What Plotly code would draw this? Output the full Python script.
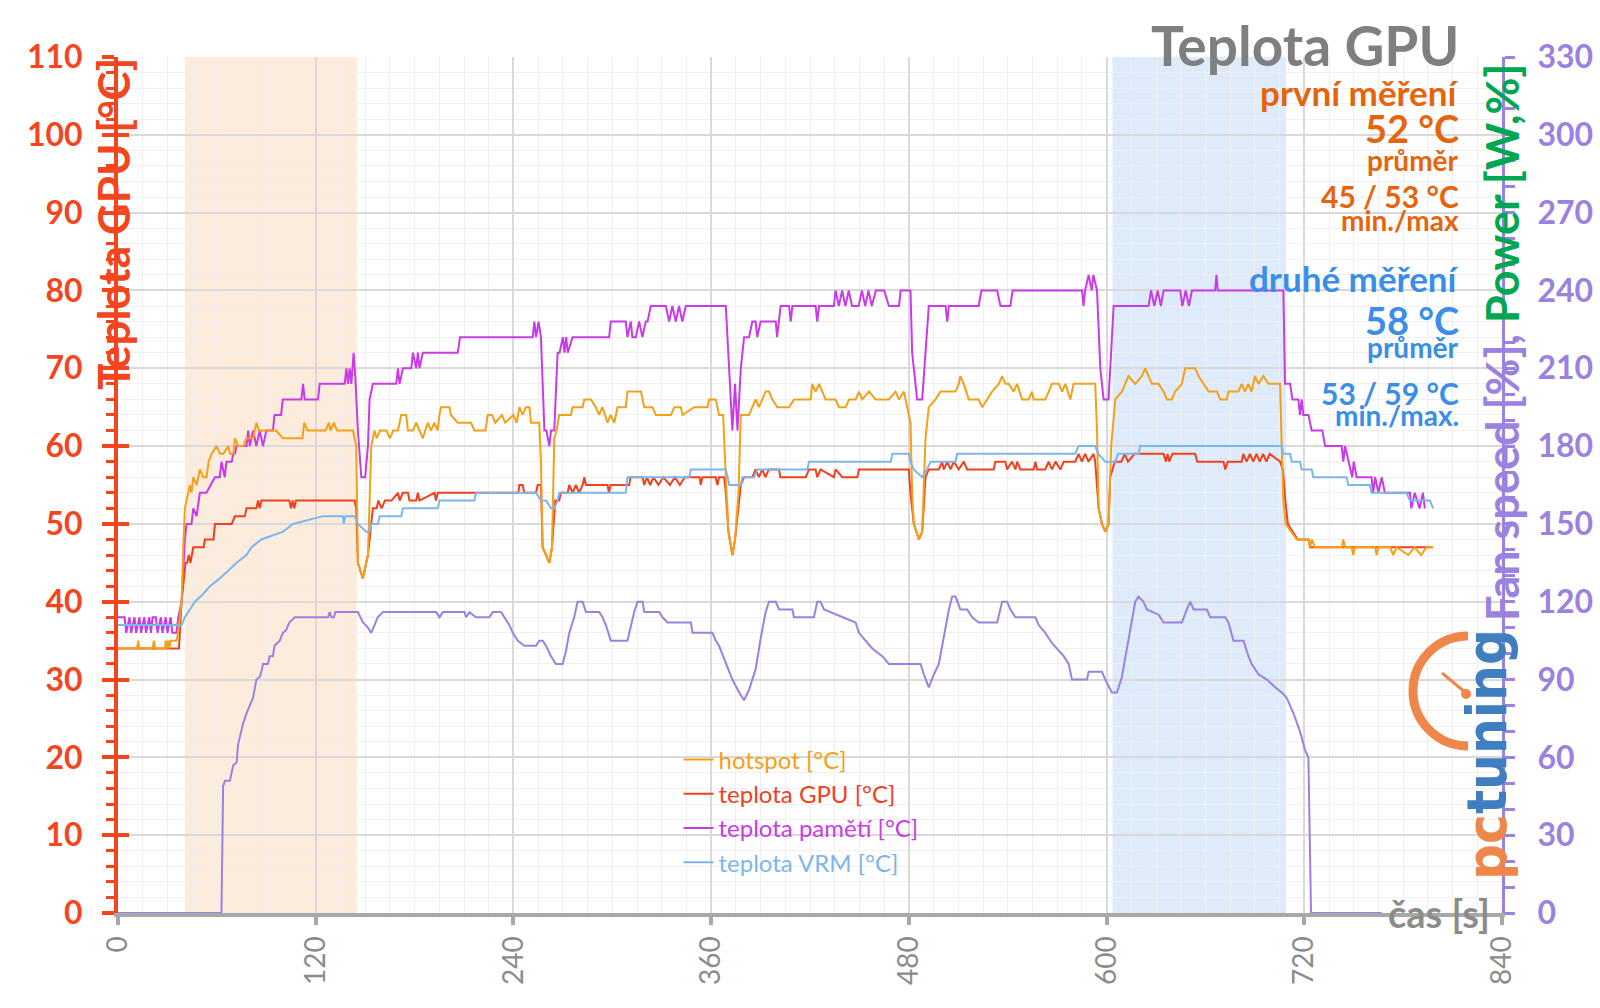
import plotly.graph_objects as go

# ---------------- data ----------------
# shaded measurement windows [s]
zone_first = [40.6, 145.0]
zone_second = [603.6, 709.0]

# fan speed (right axis)
fan_t = [0, 62.8, 63.8, 65, 67.9, 70, 72, 72.9, 74, 75.9, 78, 80, 82, 84, 86, 87, 88, 91, 92, 94, 95, 98.2,
         100, 102, 104, 107.3, 127.5, 128.5, 129.5, 131, 132, 145.6, 148.7, 151.7, 153.7, 155.7, 157.6, 160.8,
         193.1, 195.1, 197.1, 210.3, 211.3, 213.3, 217.3, 225.4, 227.4, 232.5, 235.5, 237.5, 239.6, 242.6,
         246.6, 253.7, 255.7, 257.7, 259.8, 262.8, 265.8, 269.9, 271.9, 273.9, 276.9, 278.9, 282, 284, 292.1,
         294.1, 296.1, 299.1, 309.2, 311.2, 313.3, 315.3, 318.4, 319.4, 328.5, 330.5, 333.5, 347.7, 348.7,
         360.8, 362.8, 364.8, 368.9, 372.9, 377, 380, 383, 387, 390.1, 393.1, 395.1, 399.2, 401.2, 409.3,
         410.3, 422.4, 424.4, 426.4, 428.5, 439.6, 447.7, 449.7, 453.7, 457.8, 463.8, 467.9, 487.1, 489.1,
         492.1, 495.2, 498.2, 501.2, 504.3, 506.3, 508.3, 511.3, 515.4, 518.4, 522.4, 533.6, 536.6, 539.6,
         541.6, 544.7, 556.8, 558.8, 562.8, 566.9, 570.9, 574, 577, 579, 588.1, 589.1, 597.2, 599.2, 603.2,
         606.3, 609.3, 613.3, 617.4, 619.4, 622.4, 624.4, 631.6, 634.6, 645.7, 648.7, 650.8, 652.8, 660.9,
         662.9, 672, 674, 677, 683.1, 686.1, 688.1, 692.2, 697.3, 702.3, 706.3, 709.3, 713.4, 717.4, 720.4,
         722.5, 724.1, 767]
fan_v = [0, 0, 49, 51, 51, 57, 58, 65, 68, 73, 77, 80, 83, 90, 91, 93, 96, 96, 99, 99, 103, 105,
         108, 109, 112, 114, 114, 116, 114, 114, 116, 116, 112, 110, 108, 111, 114, 116,
         116, 114, 116, 116, 114, 116, 114, 114, 116, 116, 113, 111, 108, 105,
         103, 103, 105, 105, 103, 99, 96, 96, 101, 108, 114, 120, 120, 116, 116,
         114, 111, 105, 105, 111, 116, 120, 120, 116, 116, 114, 112, 112, 108,
         108, 105, 103, 96, 90, 85, 82, 86, 94, 106, 116, 120, 120, 117, 117,
         114, 114, 120, 120, 117, 114, 112, 108, 105, 102, 99, 96, 96, 92,
         87, 92, 96, 106, 117, 122, 122, 117, 117, 114, 112, 112, 120, 120,
         117, 114, 114, 111, 108, 104, 101, 99, 96, 90, 90, 93, 93, 90, 85,
         85, 91, 106, 120, 122, 120, 117, 115, 112, 112, 117, 120, 117, 117,
         114, 114, 112, 105, 105, 99, 96, 92, 90, 87, 85, 83, 77, 70, 63,
         60, 0, 0]

# hotspot
hot_t = [0, 11.5, 12.3, 13, 21, 21.8, 22.6, 28.5, 29, 29.5, 30.5, 31, 32, 33.5, 35.5, 36.5, 38.6, 39.6, 40.6,
         41.6, 43.6, 44.6, 45.7, 47.7, 49.7, 51.7, 53.7, 55, 56.8, 59.8, 62, 64, 66.9, 68, 70, 70.9, 73, 76, 78,
         82, 84, 85.5, 94, 96, 100, 112, 113, 115, 126, 128, 129, 131, 133, 142.6, 144.6, 145.6, 148.6, 151.7,
         153.7, 155.7, 157, 159, 163, 165, 167, 169.9, 171.9, 174.9, 176, 179, 181, 183, 185, 188, 190, 192,
         194, 195.1, 196, 201.2, 202, 206.2, 214.3, 216.3, 223, 224.4, 227, 229, 233, 235, 240, 242, 243.6,
         245.6, 247.6, 249.7, 250.7, 255.7, 256.7, 257.7, 259.8, 261.8, 263.4, 264.8, 266.2, 267.8, 274.9,
         275.9, 282, 283, 287, 290, 292, 294, 297.1, 299, 301.2, 303.2, 308.2, 309.2, 317.4, 319.4, 324.4,
         326.5, 335.6, 337.6, 341.6, 342.6, 349.7, 357.8, 358.8, 362.8, 364.8, 367.3, 368.9, 370.5, 372.9,
         374.5, 376.6, 378, 383, 385, 387, 389, 393.1, 395.1, 397.1, 400.2, 407.3, 410.3, 420.4, 421.4, 423.4,
         425.5, 429.5, 435.5, 437.6, 441.6, 443.7, 447.7, 449.7, 451.7, 455.8, 459.8, 467.9, 471.9, 473.9, 477,
         479, 481, 482, 483, 486.1, 488.1, 490.1, 492.1, 496.2, 499.2, 508.3, 510.3, 511.3, 513.3, 516.4, 522.4,
         524.5, 527.5, 530.5, 534.6, 536.6, 538.6, 540.6, 543.6, 545.7, 548.7, 552.7, 554.7, 555.7, 562.8,
         564.8, 566.9, 571, 573, 575, 578, 580, 593.1, 594.2, 595.2, 597.2, 599.2, 601.2, 602.8, 605.3, 609.3,
         611.3, 613.3, 617.4, 621.4, 623.4, 625.5, 627.5, 631.6, 634.6, 636.6, 639.6, 641.6, 645.7, 647.7,
         653.8, 655.8, 658.8, 661.9, 667, 668.9, 673, 674, 680, 682, 684, 686, 688, 690.1, 692.1, 695.2, 698.2,
         705.3, 706.3, 707.3, 708.7, 712.3, 715.4, 722.5, 723.5, 724.5, 726.5, 742.7, 743.7, 744.7, 748.7,
         749.7, 750.7, 763, 763.9, 765, 772, 774, 776, 783.1, 787, 791, 794, 798.2]
hot_v = [34, 34, 35, 34, 34, 35, 34, 34, 35, 34, 35, 34, 35, 35, 35, 36, 40, 47, 52,
         53, 55, 54, 56, 55, 57, 56, 56, 58, 59, 60, 59, 59, 60, 59, 59, 61, 60, 60, 61,
         61, 63, 62, 62, 62, 61, 61, 63, 62, 62, 63, 62, 63, 62, 62, 60, 45, 43, 46,
         60, 62, 61, 62, 62, 61, 62, 62, 64, 64, 62, 62, 63, 62, 61, 63, 62, 63,
         62, 64, 65, 65, 64, 63, 63, 62, 62, 64, 64, 63, 64, 63, 64, 63, 65,
         64, 65, 65, 63, 63, 58, 47, 46, 45, 47, 61, 62, 64, 64,
         65, 65, 66, 66, 65, 64, 65, 63, 64, 63, 65, 65, 67, 67, 65, 65,
         64, 64, 65, 65, 64, 65, 65, 66, 66, 64, 64, 56, 49, 46,
         48, 54, 64, 64, 65, 66, 65, 67, 67, 66, 65, 65, 66, 66, 68, 67,
         68, 66, 66, 65, 65, 66, 66, 67, 66, 67, 66, 66, 67, 66, 67,
         65, 63, 54, 50, 48, 49, 61, 65, 66, 67, 67, 68, 69, 68, 66, 66,
         65, 66, 67, 68, 69, 68, 68, 67, 68, 66, 66, 67, 66, 66,
         67, 68, 68, 67, 68, 66, 68, 68, 62, 52, 50, 49, 50, 60, 66, 67,
         68, 69, 68, 69, 70, 69, 68, 68, 67, 66, 66, 67, 68, 70,
         70, 69, 68, 67, 67, 66, 66, 67, 67, 68, 67, 68, 67, 69, 68, 69, 68,
         68, 60, 53, 50, 49, 48, 48, 47, 48, 47, 47, 48, 47, 47,
         46, 47, 47, 46, 47, 47, 46, 47, 46, 47, 46, 47, 47]

# GPU temperature
gpu_t = [0, 37, 38.6, 39.6, 41, 42, 43, 44, 45.7, 52, 52.7, 58, 58.8, 69, 71, 77, 78, 84, 85, 86, 87, 104, 105,
         106, 107, 108, 143.6, 144.6, 145.6, 148.6, 151.7, 153.7, 154.7, 157, 158, 160, 162, 166, 169.9, 171,
         172.9, 176, 176.9, 181, 182, 183, 192.1, 193, 194.1, 243, 243.6, 245.6, 246.6, 253.7, 254.7, 256.7,
         257.7, 259.8, 261.8, 263.4, 265.4, 267.8, 268.8, 272.9, 273.9, 275.9, 277.9, 279.9, 282, 283, 284,
         297.1, 298, 299, 310.3, 311, 318.4, 319.4, 321, 323, 325, 328, 331, 335, 338, 341, 344, 353, 353.7,
         354.7, 362.8, 363.8, 364.8, 367.9, 368.9, 370.5, 372.9, 374.5, 376.6, 378, 380, 385, 387, 389, 391,
         393, 395, 401.2, 402, 417.4, 419.4, 423.4, 424.4, 426.4, 434.5, 435.5, 439.6, 448.7, 449.7, 480, 481,
         483, 486.1, 488.1, 490.1, 492.1, 498.2, 500.2, 501.2, 503.3, 505.3, 507.3, 510.3, 513.3, 515.4, 531.5,
         532.5, 538.6, 539.6, 542.6, 544.7, 545.7, 547.7, 555.7, 556.8, 557.8, 562.8, 564.8, 566.9, 569, 572,
         574, 581, 583, 585, 587, 589, 592.1, 593.1, 594.2, 595.2, 597.2, 599.2, 601.2, 602.2, 605, 609, 611,
         613, 617, 621.4, 634.6, 636, 637, 638, 640, 647.7, 653.8, 655, 671, 672, 673.5, 682, 683, 685, 687,
         689, 691, 693, 695, 697, 699, 705.3, 707, 708.5, 710, 713, 716, 722.5, 723.5, 798]
gpu_v = [34, 34, 40, 42, 45, 45, 46, 45, 47, 47, 48, 48, 50, 50, 51, 51, 52, 52, 53, 52, 53, 53, 52,
         53, 52, 53, 53, 52, 45, 43, 46, 50, 52, 52, 53, 52, 53, 53, 54, 53,
         54, 54, 53, 53, 54, 53, 54, 53, 54, 54, 55, 55, 54, 54, 55, 55,
         47, 46, 45, 47, 53, 53, 54, 54, 55, 54, 55, 54, 55, 56, 55,
         55, 54, 55, 55, 56, 56, 55, 56, 55, 56, 55, 56, 55, 56, 55, 56, 56, 55,
         56, 56, 55, 56, 56, 54, 49, 46, 48, 52, 55, 56, 56, 57, 56, 57,
         56, 57, 57, 56, 56, 57, 57, 56, 57, 56, 57, 56, 56, 57, 57, 54,
         50, 48, 49, 56, 57, 57, 58, 57, 58, 57, 58, 57, 58, 57, 57,
         58, 58, 57, 58, 57, 58, 57, 57, 58, 57, 57, 58, 57, 58, 57,
         58, 58, 59, 58, 59, 58, 59, 58, 54, 52, 50, 49, 50, 56, 58, 58, 59,
         58, 59, 59, 59, 58, 59, 58, 59, 59, 59, 58, 58, 57, 58, 58, 59, 58, 59,
         58, 59, 58, 59, 58, 59, 58, 57, 53, 50, 49, 48, 48, 47, 47]

# memory temperature
mem_t = [0, 4, 5, 7, 8, 10, 11, 13, 14, 16, 17, 19, 20, 21, 23, 24, 26, 27, 29, 30, 32, 33, 35.5, 36.6, 38.6,
         39.6, 40.6, 41.6, 44.6, 45.7, 47.7, 49.7, 53.7, 58.8, 61.8, 62.8, 64.8, 65.8, 69, 70, 71, 72, 78, 79,
         80, 82, 84, 86, 88, 90, 94, 95, 99, 100, 111.3, 112.3, 113.3, 121.4, 122.4, 137.6, 138.6, 139.6,
         140.6, 141.6, 143, 144, 145.6, 147.7, 150, 151.7, 152.7, 154.7, 168.9, 169.9, 170.9, 172.9, 178, 179,
         181, 182, 183, 185, 206.2, 207.6, 251.7, 252.7, 253.7, 255.3, 256.7, 258.8, 260, 261.8, 262.8, 264.8,
         266.8, 268, 270, 271, 272, 273, 275.9, 298.1, 299.1, 308.2, 309.2, 311.2, 312.2, 314.3, 316.3, 318.3,
         320.3, 321.4, 323.4, 332.5, 334.5, 336.5, 338.5, 340.5, 342.5, 344.6, 368.9, 370.9, 372.9, 374.5, 376,
         378, 380, 383, 385, 387, 388, 390, 399.2, 400, 402.2, 407.3, 408.3, 409.3, 423.4, 424.4, 425.5, 434.5,
         435.5, 437.5, 439.5, 441.5, 443.5, 445.5, 449.5, 451.5, 453.5, 455.5, 457.5, 460, 465, 467.9, 474,
         475, 481, 482, 485, 488.1, 490.1, 492.1, 502.3, 503.3, 504.3, 522.4, 524, 533.6, 535.6, 541.6, 543,
         585.1, 586, 587, 589.1, 591, 592, 594.2, 596.2, 598.2, 601.2, 604.3, 625.5, 627, 629, 631, 633, 634.6,
         644.7, 646, 648, 650, 651.8, 665.9, 666.7, 667.5, 707.3, 708.3, 711.4, 712.8, 716.4, 717.4, 718.4,
         719.4, 722.5, 724.5, 731, 732.6, 742.7, 743.7, 744.7, 746.7, 749.1, 750, 751.8, 760.8, 761.8, 763,
         765, 767, 768.9, 784.1, 785, 787, 790, 792, 793.2]
mem_v = [38, 38, 36, 38, 36, 38, 36, 38, 36, 38, 36, 38, 36, 38, 38, 36, 38, 36, 38, 36, 38, 36, 36, 38, 40,
         44, 48, 50, 50, 52, 51, 54, 54, 56, 56, 58, 56, 58, 58, 59, 59, 60, 60, 62,
         60, 62, 60, 62, 60, 62, 62, 64, 64, 66, 66, 68, 66, 66, 68, 68, 70, 68,
         70, 68, 72, 69, 62, 56, 56, 60, 66, 68, 68, 70, 68, 70, 70, 72,
         70, 72, 70, 72, 72, 74, 74, 76, 74, 76, 74, 62, 62, 60, 62, 62,
         72, 72, 74, 72, 74, 72, 74, 74, 76, 76, 74, 76, 74, 74, 76, 74,
         76, 76, 78, 78, 76, 78, 76, 78, 76, 78, 78, 70, 62, 68, 62,
         70, 74, 74, 76, 76, 74, 76, 76, 74, 78, 78, 76, 78, 78, 76, 78, 78,
         80, 78, 80, 78, 80, 78, 78, 80, 78, 80, 78, 80, 80, 78, 78,
         80, 80, 72, 66, 66, 72, 78, 78, 76, 78, 78, 80, 80, 78, 78, 80,
         80, 78, 80, 82, 80, 82, 80, 70, 66, 66, 78, 78, 80, 78, 80, 78, 80,
         80, 78, 80, 78, 80, 80, 82, 80, 80, 68, 68, 66, 66, 64, 66,
         64, 64, 62, 62, 60, 60, 58, 60, 58, 56, 58, 56, 56, 54, 56,
         54, 56, 54, 54, 52, 54, 52, 54, 52]

# VRM temperature
vrm_t = [0, 38.6, 40.6, 43.6, 46.7, 51.7, 55.8, 61.8, 66.9, 72, 78, 81, 87, 100.2, 106.2, 124.4, 136.5, 137, 138,
         143.6, 145.6, 150.7, 152.7, 153.7, 157.8, 158.8, 171.9, 172.9, 194.1, 195.1, 216.3, 217.3, 253.7, 256.7,
         259.8, 262.8, 264.8, 266.8, 267.8, 308.2, 309.2, 346.7, 347.7, 368.9, 370, 371, 378, 379, 386, 388,
         418.4, 419.4, 469, 470, 480, 481, 483, 488.1, 491, 493.2, 508.3, 509.3, 581, 583, 593.1, 595, 599.2,
         605.3, 607, 619.4, 620.4, 706.3, 707.3, 711.4, 712.4, 717.4, 718.4, 724.5, 725.5, 745.7, 746.7, 759.8,
         760.8, 782, 784.1, 796.2, 798.2]
vrm_v = [37, 37, 38, 39, 40, 41, 42, 43, 44, 45, 46, 47, 48, 49, 50, 51, 51, 50, 51,
         51, 50, 49, 49, 50, 50, 51, 51, 52, 52, 53, 53, 54, 54, 53,
         53, 52, 52, 53, 54, 54, 56, 56, 57, 57, 56, 55, 55, 56, 56, 57,
         57, 58, 58, 59, 59, 58, 57, 56, 57, 58, 58, 59, 59, 60, 60, 59, 58,
         58, 59, 59, 60, 60, 59, 59, 58, 58, 57, 57, 56, 56, 55, 55,
         54, 54, 53, 53, 52]

series_names = ["hotspot [°C]", "teplota GPU [°C]", "teplota pamětí [°C]", "teplota VRM [°C]"]
x_ticks = [0, 120, 240, 360, 480, 600, 720, 840]

# ---------------- style ----------------
RED = "#F4461E"
FAN = "#9B82E0"
HOT = "#F5A019"
GPU = "#F2401E"
MEM = "#C93BE8"
VRM = "#7DB6EA"
GRAY = "#8C8C8C"
ORANGE_TXT = "#E4650C"
BLUE_TXT = "#3A8EE8"
GREEN = "#00A651"
FONT = "Lato, 'Open Sans', sans-serif"

fig = go.Figure()

fig.add_vrect(x0=zone_first[0], x1=zone_first[1], fillcolor="#FDEBDC", line_width=0, layer="below")
fig.add_vrect(x0=zone_second[0], x1=zone_second[1], fillcolor="#DEEBFA", line_width=0, layer="below")

fig.add_trace(go.Scatter(x=fan_t, y=fan_v, yaxis="y2", mode="lines", line=dict(color=FAN, width=2),
                         showlegend=False, name="fan"))
fig.add_trace(go.Scatter(x=gpu_t, y=gpu_v, mode="lines", line=dict(color=GPU, width=2), legendrank=2,
                         name=f"<span style='color:{GPU}'>{series_names[1]}</span>"))
fig.add_trace(go.Scatter(x=mem_t, y=mem_v, mode="lines", line=dict(color=MEM, width=2), legendrank=3,
                         name=f"<span style='color:{MEM}'>{series_names[2]}</span>"))
fig.add_trace(go.Scatter(x=hot_t, y=hot_v, mode="lines", line=dict(color=HOT, width=2), legendrank=1,
                         name=f"<span style='color:{HOT}'>{series_names[0]}</span>"))
fig.add_trace(go.Scatter(x=vrm_t, y=vrm_v, mode="lines", line=dict(color=VRM, width=2), legendrank=4,
                         name=f"<span style='color:{VRM}'>{series_names[3]}</span>"))
# helper (empty) trace so the inside-tick overlay axis is drawn
fig.add_trace(go.Scatter(x=[0], y=[None], yaxis="y3", mode="lines", showlegend=False, hoverinfo="skip"))

fig.update_layout(
    width=1600, height=1008,
    margin=dict(l=118, r=98, t=57, b=95, pad=0, autoexpand=False),
    paper_bgcolor="white", plot_bgcolor="white",
    font=dict(family=FONT),
    showlegend=True,
    legend=dict(x=0.405, y=0.205, xanchor="left", yanchor="top", bgcolor="rgba(0,0,0,0)",
                font=dict(size=24, family=FONT), itemwidth=30, tracegroupgap=0),
    xaxis=dict(range=[0, 840], tickmode="array", tickvals=x_ticks, ticktext=[str(v) for v in x_ticks],
               tickangle=-90, tickfont=dict(size=28, color=GRAY, family=FONT), automargin=False,
               showline=True, linecolor="#A8A8A8", linewidth=4,
               ticks="outside", ticklen=8, tickwidth=4, tickcolor="#A8A8A8", ticklabelstandoff=0,
               showgrid=True, gridcolor="#D9D9D9", gridwidth=2, zeroline=False,
               minor=dict(dtick=15, tick0=0, showgrid=True, gridcolor="#EFEFEF", gridwidth=1)),
    yaxis=dict(range=[0, 110], dtick=10, tick0=0, automargin=False,
               tickfont=dict(size=32, color=RED, family=FONT, weight="bold"),
               showline=True, linecolor=RED, linewidth=4,
               ticks="outside", ticklen=12, tickwidth=4, tickcolor=RED, ticklabelstandoff=13,
               showgrid=True, gridcolor="#D9D9D9", gridwidth=2, zeroline=False,
               minor=dict(dtick=2, tick0=0, ticks="outside", ticklen=8, tickwidth=3, tickcolor=RED,
                          showgrid=True, gridcolor="#F0F0F0", gridwidth=1)),
    yaxis2=dict(range=[0, 330], dtick=30, tick0=0, overlaying="y", side="right", automargin=False,
                tickfont=dict(size=32, color=FAN, family=FONT, weight="bold"),
                showline=True, linecolor=FAN, linewidth=3,
                ticks="outside", ticklen=10, tickwidth=3, tickcolor=FAN, ticklabelstandoff=16,
                showgrid=False, zeroline=False,
                minor=dict(dtick=10, tick0=0, ticks="outside", ticklen=10, tickwidth=3, tickcolor=FAN)),
    yaxis3=dict(range=[0, 110], dtick=10, tick0=0, overlaying="y", side="left", automargin=False,
                showticklabels=False, showline=False, showgrid=False, zeroline=False,
                ticks="inside", ticklen=11, tickwidth=4, tickcolor=RED),
)

def px_x(p):
    return (p - 118) / 1384.0

def px_y(p):
    return (913 - p) / 856.0

ann = []
# title and statistics block
XR = px_x(1461)
texts = [
    ("Teplota GPU", 45, 55, "#7F7F7F"),
    ("první měření", 92, 35, ORANGE_TXT),
    ("52 °C", 128, 38, ORANGE_TXT),
    ("průměr", 160, 28, ORANGE_TXT),
    ("45 / 53 °C", 196, 30, ORANGE_TXT),
    ("min./max", 220, 28, ORANGE_TXT),
    ("druhé měření", 278, 35, BLUE_TXT),
    ("58 °C", 320, 38, BLUE_TXT),
    ("průměr", 347, 28, BLUE_TXT),
    ("53 / 59 °C", 393, 30, BLUE_TXT),
    ("min./max.", 415, 28, BLUE_TXT),
]
for t, yc, fs, col in texts:
    ann.append(dict(text=f"<b>{t}</b>", x=XR, y=px_y(yc), xref="paper", yref="paper",
                    xanchor="right", yanchor="middle", showarrow=False,
                    font=dict(size=fs, color=col, family=FONT)))

# axis titles
ann.append(dict(text="<b>Teplota GPU [°C]</b>", x=px_x(113), y=px_y(224), xref="paper", yref="paper",
                xanchor="center", yanchor="middle", textangle=-90, showarrow=False,
                font=dict(size=44, color=RED, family=FONT)))
ann.append(dict(text=f"<b><span style='color:{FAN}'>Fan speed [%], </span><span style='color:{GREEN}'>Power [W,%]</span></b>",
                x=px_x(1502), y=px_y(343), xref="paper", yref="paper",
                xanchor="center", yanchor="middle", textangle=-90, showarrow=False,
                font=dict(size=45, color=FAN, family=FONT)))
ann.append(dict(text="<b>čas [s]</b>", x=px_x(1492), y=0, xref="paper", yref="paper",
                xanchor="right", yanchor="middle", showarrow=False,
                font=dict(size=38, color=GRAY, family=FONT)))

# pctuning logo (decorative)
ann.append(dict(text="<b><span style='color:#F0874A'>pc</span><span style='color:#3F7FC0'>tuning</span></b>",
                x=px_x(1486), y=px_y(755), xref="paper", yref="paper",
                xanchor="center", yanchor="middle", textangle=-90, showarrow=False,
                font=dict(size=56, family="'Liberation Sans Narrow', 'DejaVu Sans Condensed', sans-serif")))
fig.update_layout(annotations=ann)

cx, cy, r, k = 1468, 691, 55, 0.5523
arc = (f"M {px_x(cx)},{px_y(cy - r)} "
       f"C {px_x(cx - k * r)},{px_y(cy - r)} {px_x(cx - r)},{px_y(cy - k * r)} {px_x(cx - r)},{px_y(cy)} "
       f"C {px_x(cx - r)},{px_y(cy + k * r)} {px_x(cx - k * r)},{px_y(cy + r)} {px_x(cx)},{px_y(cy + r)}")
fig.add_shape(type="path", path=arc, xref="paper", yref="paper", line=dict(color="#F0874A", width=9))
fig.add_shape(type="line", x0=px_x(1442), y0=px_y(673), x1=px_x(1466), y1=px_y(693), xref="paper", yref="paper",
              line=dict(color="#F0874A", width=3))
fig.add_shape(type="circle", x0=px_x(1461), y0=px_y(689), x1=px_x(1471), y1=px_y(699), xref="paper", yref="paper",
              fillcolor="#F0874A", line=dict(width=0))

fig.write_html("out.html", config={"displayModeBar": False},
               post_script="document.body.style.margin='0px';")
